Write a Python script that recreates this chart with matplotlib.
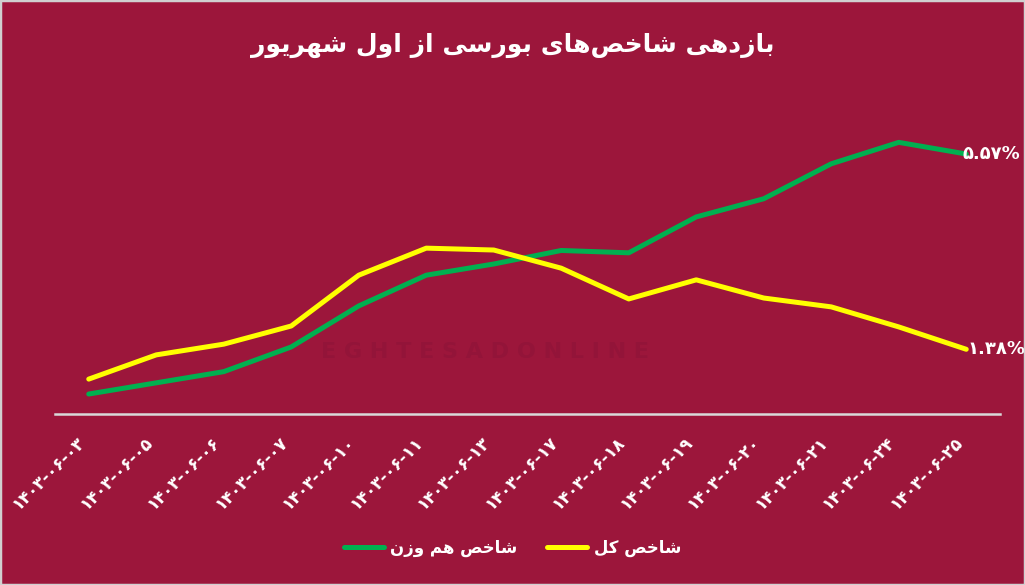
import matplotlib
matplotlib.use("Agg")
import matplotlib.pyplot as plt
from matplotlib import font_manager
from matplotlib.ft2font import FT2Font
from matplotlib.patches import Rectangle

# ---------------- data ----------------
dates = ["۱۴۰۳-۰۶-۰۳", "۱۴۰۳-۰۶-۰۵", "۱۴۰۳-۰۶-۰۶", "۱۴۰۳-۰۶-۰۷", "۱۴۰۳-۰۶-۱۰",
         "۱۴۰۳-۰۶-۱۱", "۱۴۰۳-۰۶-۱۳", "۱۴۰۳-۰۶-۱۷", "۱۴۰۳-۰۶-۱۸", "۱۴۰۳-۰۶-۱۹",
         "۱۴۰۳-۰۶-۲۰", "۱۴۰۳-۰۶-۲۱", "۱۴۰۳-۰۶-۲۴", "۱۴۰۳-۰۶-۲۵"]
equal_weight = [0.42, 0.66, 0.90, 1.43, 2.31, 2.97, 3.21, 3.50, 3.45, 4.22, 4.61, 5.36, 5.82, 5.57]
total_index = [0.74, 1.26, 1.49, 1.88, 2.97, 3.55, 3.51, 3.12, 2.46, 2.87, 2.48, 2.29, 1.86, 1.38]
title_text = "بازدهی شاخص\u200cهای بورسی از اول شهریور"
legend_equal = "شاخص هم وزن"
legend_total = "شاخص کل"
end_equal = "۵.۵۷%"
end_total = "۱.۳۸%"
watermark = "EGHTESADONLINE"

# ---------------- simple Persian shaping ----------------
path_b = font_manager.findfont(font_manager.FontProperties(family="DejaVu Sans", weight="bold"))
ft = FT2Font(path_b)
def has(cp):
    try:
        return ft.get_char_index(cp) != 0
    except Exception:
        return False

FORMS = {
    "ا": (0xFE8D, 0xFE8E, None, None),
    "ب": (0xFE8F, 0xFE90, 0xFE91, 0xFE92),
    "خ": (0xFEA5, 0xFEA6, 0xFEA7, 0xFEA8),
    "د": (0xFEA9, 0xFEAA, None, None),
    "ر": (0xFEAD, 0xFEAE, None, None),
    "ز": (0xFEAF, 0xFEB0, None, None),
    "س": (0xFEB1, 0xFEB2, 0xFEB3, 0xFEB4),
    "ش": (0xFEB5, 0xFEB6, 0xFEB7, 0xFEB8),
    "ص": (0xFEB9, 0xFEBA, 0xFEBB, 0xFEBC),
    "ل": (0xFEDD, 0xFEDE, 0xFEDF, 0xFEE0),
    "م": (0xFEE1, 0xFEE2, 0xFEE3, 0xFEE4),
    "ن": (0xFEE5, 0xFEE6, 0xFEE7, 0xFEE8),
    "ه": (0xFEE9, 0xFEEA, 0xFEEB, 0xFEEC),
    "و": (0xFEED, 0xFEEE, None, None),
}
if has(0xFBFC):
    FORMS["ی"] = (0xFBFC, 0xFBFD, 0xFBFE, 0xFBFF)
else:
    FORMS["ی"] = (0xFEEF, 0xFEF0, 0xFEF3, 0xFEF4)
if has(0xFB8E):
    FORMS["ک"] = (0xFB8E, 0xFB8F, 0xFB90, 0xFB91)
else:
    FORMS["ک"] = (0xFED9, 0xFEDA, 0xFEDB, 0xFEDC)

def shape(text):
    chars = list(text)
    out = []
    for i, c in enumerate(chars):
        if c not in FORMS:
            if c != "\u200c":
                out.append(c)
            continue
        prev = chars[i - 1] if i > 0 else None
        nxt = chars[i + 1] if i + 1 < len(chars) else None
        jp = prev in FORMS and FORMS[prev][2] is not None
        jn = FORMS[c][2] is not None and nxt in FORMS
        iso, fin, ini, med = FORMS[c]
        if jp and jn:
            cp = med
        elif jp:
            cp = fin
        elif jn:
            cp = ini
        else:
            cp = iso
        out.append(chr(cp))
    return "".join(reversed(out))

# ---------------- figure ----------------
BG = "#9C163B"
GREEN = "#00B050"
YELLOW = "#FFFF00"
plt.rcParams["font.family"] = ["DejaVu Sans"]

fig = plt.figure(figsize=(10.25, 5.85), dpi=100)
fig.patch.set_facecolor(BG)
fig.patches.append(Rectangle((0, 0), 1, 1, transform=fig.transFigure, fill=False,
                             edgecolor="#D0D0D0", linewidth=2.5, zorder=10))

ax = fig.add_axes([55 / 1025, 171.4 / 585, 945 / 1025, 307.6 / 585])
ax.set_facecolor(BG)

x = list(range(len(dates)))

# faint watermark
ax.text(0.455, 0.2, " ".join(watermark), transform=ax.transAxes, ha="center", va="center",
        fontsize=16, fontweight="bold", color="#931439", zorder=0)

ax.plot(x, equal_weight, color=GREEN, linewidth=3.6, solid_capstyle="round",
        solid_joinstyle="round", label=shape(legend_equal), zorder=3)
ax.plot(x, total_index, color=YELLOW, linewidth=3.6, solid_capstyle="round",
        solid_joinstyle="round", label=shape(legend_total), zorder=3)

ax.text(x[-1] - 0.05, equal_weight[-1], end_equal, color="white", fontsize=13,
        fontweight="bold", ha="left", va="center", zorder=4)
ax.text(x[-1] + 0.02, total_index[-1], end_total, color="white", fontsize=13,
        fontweight="bold", ha="left", va="center", zorder=4)

ax.set_xlim(-0.5, len(dates) - 0.5)
ax.set_ylim(0, 6.6)
ax.set_yticks([])
ax.set_xticks(x)
ax.set_xticklabels(dates, rotation=45, ha="right", rotation_mode="default",
                   color="white", fontsize=12, fontweight="bold")
ax.tick_params(axis="x", length=0, pad=14)
for s in ["top", "right", "left"]:
    ax.spines[s].set_visible(False)
ax.spines["bottom"].set_color("#D9D9D9")
ax.spines["bottom"].set_linewidth(1.8)

fig.text(0.5, 1 - 45 / 585, shape(title_text), ha="center", va="center",
         color="white", fontsize=18, fontweight="bold")

leg = fig.legend(loc="center", bbox_to_anchor=(0.5, 1 - 548 / 585), ncol=2,
                 frameon=False, handlelength=2.4, handletextpad=0.4, columnspacing=1.8,
                 prop={"weight": "bold", "size": 12})
for t in leg.get_texts():
    t.set_color("white")

fig.savefig("out.png", dpi=100, facecolor=BG)
